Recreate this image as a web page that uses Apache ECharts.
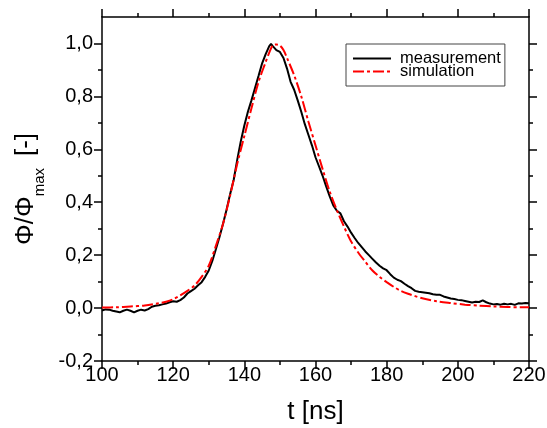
<!DOCTYPE html>
<html>
<head>
<meta charset="utf-8">
<script src="https://cdn.jsdelivr.net/npm/echarts@6/dist/echarts.min.js"></script>
<style>
html,body{margin:0;padding:0;background:#fff;}
#chart{width:547px;height:428px;}
</style>
</head>
<body>
<div id="chart"></div>
<script>
// ---- data ----
const tMeas = [100,101,102,103,104,105,106,107,108,109,110,111,112,113,114,115,116,117,118,119,
  120,121,122,123,124,125,126,127,128,129,130,131,132,133,134,135,136,137,138,139,
  140,141,142,143,144,145,146,147,147.5,148,149,150,151,152,153,154,155,156,157,158,159,
  160,161,162,163,164,165,166,167,168,169,170,171,172,173,174,175,176,177,178,179,
  180,181,182,183,184,185,186,187,188,189,190,191,192,193,194,195,196,197,198,199,
  200,201,202,203,204,205,206,207,208,209,210,211,212,213,214,215,216,217,218,219,220];
const phiMeas = [-0.009,-0.005,-0.006,-0.010,-0.013,-0.016,-0.010,-0.006,-0.010,-0.016,
  -0.010,-0.006,-0.009,-0.004,0.005,0.009,0.011,0.014,0.017,0.022,
  0.026,0.024,0.030,0.040,0.055,0.064,0.073,0.086,0.098,0.118,
  0.142,0.178,0.222,0.268,0.318,0.372,0.430,0.484,0.560,0.630,
  0.690,0.742,0.785,0.832,0.878,0.925,0.960,0.990,0.998,0.990,0.975,0.968,0.945,0.905,0.855,0.825,0.785,0.742,0.695,0.655,0.615,
  0.570,0.535,0.500,0.460,0.422,0.388,0.368,0.358,0.328,0.308,
  0.285,0.265,0.246,0.230,0.214,0.200,0.186,0.172,0.160,0.150,
  0.143,0.128,0.115,0.107,0.102,0.092,0.083,0.075,0.065,0.062,
  0.060,0.058,0.056,0.052,0.050,0.050,0.044,0.040,0.036,0.034,
  0.031,0.030,0.027,0.024,0.021,0.024,0.023,0.029,0.022,0.017,
  0.014,0.015,0.013,0.016,0.014,0.016,0.012,0.018,0.017,0.019,0.018];

const tSim = [100,104,108,112,116,118,120,122,124,126,128,130,132,134,136,138,140,142,144,146,147,148,149,150,151,152,
  154,156,158,160,162,164,166,168,170,172,174,176,178,180,182,184,186,188,190,194,198,202,206,210,214,218,220];
const phiSim = [0.002,0.003,0.006,0.010,0.018,0.024,0.033,0.048,0.065,0.085,0.118,0.160,0.235,0.318,0.425,0.545,0.650,0.755,0.855,0.930,0.965,0.993,0.996,0.992,0.975,0.945,
  0.880,0.800,0.705,0.615,0.525,0.440,0.370,0.308,0.252,0.210,0.175,0.142,0.118,0.098,0.080,0.065,0.054,0.045,0.037,0.026,0.019,0.013,0.009,0.006,0.004,0.003,0.003];

const seriesNames = ['measurement', 'simulation'];
const yMajorTicks = [-0.2, 0, 0.2, 0.4, 0.6, 0.8, 1.0];
const yMinorTicks = [-0.1, 0.1, 0.3, 0.5, 0.7, 0.9];
const xMin = 100, xMax = 220, xStep = 20;
const yMin = -0.2, yMax = 1.1;

// ---- chart ----
const FONT = 'Liberation Sans, Arial, sans-serif';
const chart = echarts.init(document.getElementById('chart'), null, {renderer: 'canvas'});
const fmtY = v => v.toFixed(1).replace('.', ',');
const lineStyleAxis = {color: '#000', width: 1.5};

function xAx(pos, labels) {
  return {
    type: 'value', position: pos, min: xMin, max: xMax, interval: xStep,
    axisLine: {show: true, onZero: false, lineStyle: lineStyleAxis},
    axisTick: {show: true, inside: false, length: 8, lineStyle: lineStyleAxis},
    minorTick: {show: true, splitNumber: 2, length: 4, lineStyle: lineStyleAxis},
    splitLine: {show: false}, minorSplitLine: {show: false},
    axisLabel: {show: labels, margin: 4, color: '#000', fontSize: 20, fontFamily: FONT},
    name: labels ? 't [ns]' : '', nameLocation: 'middle', nameGap: 38,
    nameTextStyle: {color: '#000', fontSize: 26, fontFamily: FONT}
  };
}
function yAx(pos, labels) {
  return {
    type: 'value', position: pos, min: yMin, max: yMax,
    axisLine: {show: true, onZero: false, lineStyle: lineStyleAxis},
    axisTick: {show: true, inside: false, length: 8, customValues: yMajorTicks, lineStyle: lineStyleAxis},
    splitLine: {show: false},
    axisLabel: {show: labels, margin: 9, color: '#000', fontSize: 20, fontFamily: FONT,
      customValues: yMajorTicks, formatter: fmtY},
    name: labels ? '{m|Φ/Φ}{s|max}{g| }{m|[-]}' : '', nameLocation: 'middle', nameRotate: 90, nameGap: 58,
    nameTextStyle: {color: '#000', fontFamily: FONT,
      rich: {
        m: {fontSize: 26, lineHeight: 26, color: '#000', fontFamily: FONT},
        s: {fontSize: 15, lineHeight: 15, padding: [28, 0, 0, 0], color: '#000', fontFamily: FONT},
        g: {fontSize: 26, lineHeight: 26, width: 12}
      }}
  };
}
function yMinorAx(pos) {
  return {
    type: 'value', position: pos, min: yMin, max: yMax,
    axisLine: {show: false},
    axisTick: {show: true, inside: false, length: 4, customValues: yMinorTicks, lineStyle: lineStyleAxis},
    axisLabel: {show: false}, splitLine: {show: false}
  };
}

const option = {
  backgroundColor: '#fff',
  animation: false,
  textStyle: {fontFamily: FONT},
  grid: {left: 102, right: 18, top: 17, bottom: 67, containLabel: false, outerBoundsMode: 'none'},
  legend: {
    show: true, left: 346, top: 44, orient: 'vertical',
    data: seriesNames,
    itemWidth: 38, itemHeight: 13, itemGap: -4,
    padding: [6, 4, 6, 6],
    borderColor: '#444', borderWidth: 1, backgroundColor: '#fff',
    itemStyle: {opacity: 0},
    textStyle: {color: '#000', fontSize: 16.5, fontFamily: FONT, padding: [0, 0, 0, 4]}
  },
  xAxis: [xAx('bottom', true), xAx('top', false)],
  yAxis: [yAx('left', true), yAx('right', false), yMinorAx('left'), yMinorAx('right')],
  series: [
    {
      name: seriesNames[0], type: 'line', xAxisIndex: 0, yAxisIndex: 0,
      data: tMeas.map((t, i) => [t, phiMeas[i]]),
      showSymbol: false, symbol: 'none',
      lineStyle: {color: '#000', width: 2}, itemStyle: {color: '#000'}
    },
    {
      name: seriesNames[1], type: 'line', xAxisIndex: 0, yAxisIndex: 0,
      data: tSim.map((t, i) => [t, phiSim[i]]),
      showSymbol: false, symbol: 'none', smooth: 0.3,
      lineStyle: {color: '#ff0000', width: 2, type: [11, 3, 3, 3]}, itemStyle: {color: '#ff0000'}
    }
  ]
};
chart.setOption(option);
</script>
</body>
</html>
